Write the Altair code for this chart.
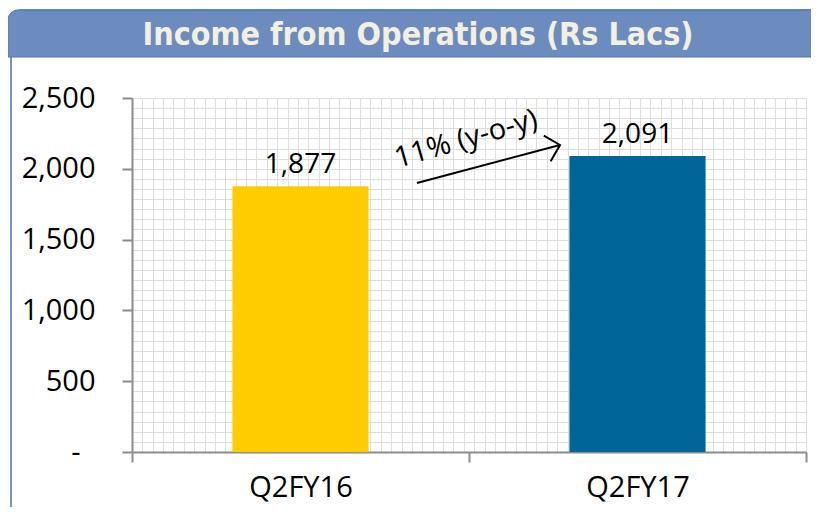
import altair as alt
import pandas as pd

categories = ["Q2FY16", "Q2FY17"]
values = [1877, 2091]
bar_colors = ["#FFCC00", "#006699"]
y_ticks = [0, 500, 1000, 1500, 2000, 2500]
zero_tick = [0]
title_text = "Income from Operations (Rs Lacs)"
annotation_text = "11% (y-o-y)"

df = pd.DataFrame({"cat": categories, "val": values, "color": bar_colors})
one = pd.DataFrame({"gx": [0], "gy": [0]})

W, H = 674, 354
FONT = "Open Sans"
AXIS_GRAY = "#8c8c8c"
Y_SCALE = alt.Scale(domain=[0, 2500], nice=False, zero=True)

x_enc = alt.X(
    "cat:N", sort=categories,
    scale=alt.Scale(paddingInner=0, paddingOuter=0),
    axis=alt.Axis(title=None, labelAngle=0, labelFontSize=29, labelFont=FONT,
                  labelColor="#000", labelPadding=11, tickBand="extent",
                  tickSize=10, tickColor=AXIS_GRAY, tickWidth=2,
                  domainColor=AXIS_GRAY, domainWidth=2, orient="bottom", grid=False),
)
y_enc = alt.Y(
    "val:Q", scale=Y_SCALE,
    axis=alt.Axis(title=None, values=y_ticks,
                  labelExpr='datum.value == 0 ? "" : format(datum.value, ",")',
                  labelFontSize=29, labelFont=FONT, labelColor="#000", labelPadding=27,
                  tickSize=10, tickColor=AXIS_GRAY, tickWidth=2,
                  domainColor=AXIS_GRAY, domainWidth=2, grid=False, orient="left"),
)
y_zero_enc = alt.Y(
    "val:Q", scale=Y_SCALE,
    axis=alt.Axis(title=None, values=zero_tick, labelExpr='"-"',
                  labelFontSize=29, labelFont=FONT, labelColor="#000", labelPadding=52,
                  ticks=False, domain=False, grid=False, orient="left"),
)

bars = alt.Chart(df).mark_bar(width=alt.RelativeBandSize(band=0.404)).encode(
    x=x_enc, y=y_enc, color=alt.Color("color:N", scale=None)
)
labels = alt.Chart(df).mark_text(baseline="bottom", dy=-7, fontSize=28, font=FONT, color="#000").encode(
    x=x_enc, y=y_zero_enc, text=alt.Text("val:Q", format=",")
)
main = alt.layer(bars, labels).resolve_axis(y="independent")

grid = alt.Chart(one).mark_point(opacity=0).encode(
    x=alt.X("gx:Q", scale=alt.Scale(domain=[0, 65], nice=False, zero=False),
            axis=alt.Axis(values=list(range(66)), grid=True, gridColor="#dddddd", gridWidth=1,
                          labels=False, ticks=False, domain=False, title=None, orient="top")),
    y=alt.Y("gy:Q", scale=alt.Scale(domain=[0, 35], nice=False, zero=False),
            axis=alt.Axis(values=list(range(36)), grid=True, gridColor="#dddddd", gridWidth=1,
                          labels=False, ticks=False, domain=False, title=None, orient="right")),
)

base = alt.layer(grid, main).resolve_scale(x="independent", y="independent")

# decorations (panel frame and title bar)
border = alt.Chart(one).mark_rect(filled=False, stroke="#4f6eaa", strokeWidth=1.5, cornerRadiusTopLeft=10).encode(
    x=alt.value(-121), x2=alt.value(720), y=alt.value(-88), y2=alt.value(520)
)
title_bar = alt.Chart(one).mark_rect(color="#6c8cc0", cornerRadiusTopLeft=10, stroke="#5473ad", strokeWidth=1).encode(
    x=alt.value(-124), x2=alt.value(720), y=alt.value(-88), y2=alt.value(-41)
)
title_txt = alt.Chart(one).mark_text(fontSize=32, fontWeight="bold", font="DejaVu Sans Condensed",
                                     color="#f3f0e2", baseline="middle", align="center").encode(
    x=alt.value(286), y=alt.value(-63), text=alt.value(title_text)
)

# annotation arrow
arrow = alt.Chart(one).mark_rule(color="#000", strokeWidth=2).encode(
    x=alt.value(285), y=alt.value(85), x2=alt.value(428), y2=alt.value(47)
)
head = alt.Chart(one).mark_point(shape="M-1,-1L0,0L-1,1", filled=False, size=700,
                                 strokeWidth=2, color="#000", angle=345, opacity=1).encode(
    x=alt.value(428), y=alt.value(47)
)
ann = alt.Chart(one).mark_text(angle=344, fontSize=29, font=FONT, color="#000",
                               baseline="middle", align="center").encode(
    x=alt.value(334), y=alt.value(41), text=alt.value(annotation_text)
)

chart = alt.layer(base, border, title_bar, title_txt, arrow, head, ann).properties(
    width=W, height=H,
    padding={"left": 124, "top": 90, "right": 5, "bottom": 55},
    autosize=alt.AutoSizeParams(type="none"),
).configure_view(fill="#ececec", stroke=None).configure(background="#ffffff")

chart.save("out.html", embed_options={"renderer": "svg", "actions": False})
